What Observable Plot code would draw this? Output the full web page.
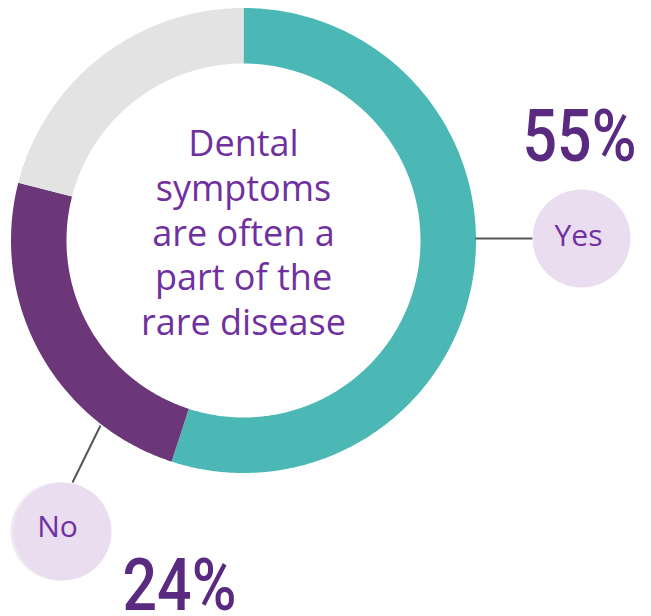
<!DOCTYPE html>
<html><head><meta charset="utf-8">
<script src="https://cdn.jsdelivr.net/npm/d3@7"></script>
<script src="https://cdn.jsdelivr.net/npm/@observablehq/plot@0.6"></script>
<style>body{margin:0;background:#fff}</style>
</head><body><div id="chart"></div>
<script>
// ---- data ----
const categories = ["Yes", "No", "Other"];
const values = [55, 24, 21];
const labelCategories = ["Yes", "No"];
const percentLabels = ["55%", "24%"];
const centerLines = ["Dental", "symptoms", "are often a", "part of the", "rare disease"];
const sliceColors = ["#4bb8b6", "#6b3779", "#e3e3e3"];

// ---- layout (pixels) ----
const W = 651, H = 616;
const cx = 243, cy = 240, R = 232.5, r0 = 177;
const ux = px => (px - cx) / R;
const uy = py => (cy - py) / R;
const pctWidth = 114;

const layout = {
  Yes: {circlePos: [581, 238], textPos: [578, 245], linePos: [[475, 238], [532, 238]], pctPos: [522, 160]},
  No:  {circlePos: [62, 531],  textPos: [57, 536],  linePos: [[100, 425], [72, 482]],  pctPos: [122, 609]}
};

// ---- donut polygons computed from the values ----
const total = d3.sum(values);
const ring = [];
let acc = 0;
categories.forEach((c, i) => {
  const a0 = acc / total * 2 * Math.PI;
  const a1 = (acc + values[i]) / total * 2 * Math.PI;
  acc += values[i];
  const n = Math.max(2, Math.ceil((a1 - a0) / 0.01));
  for (let k = 0; k <= n; k++) {
    const a = a0 + (a1 - a0) * k / n;
    ring.push({category: c, x: Math.sin(a), y: Math.cos(a)});
  }
  for (let k = n; k >= 0; k--) {
    const a = a0 + (a1 - a0) * k / n;
    ring.push({category: c, x: Math.sin(a) * r0 / R, y: Math.cos(a) * r0 / R});
  }
});

const labels = labelCategories.map((c, i) => ({
  category: c,
  pct: percentLabels[i],
  ...layout[c]
}));

const plot = Plot.plot({
  width: W,
  height: H,
  margin: 0,
  style: {background: "#fff"},
  x: {domain: [ux(0), ux(W)], range: [0, W], axis: null},
  y: {domain: [uy(0), uy(H)], range: [0, H], axis: null},
  color: {domain: categories, range: sliceColors},
  marks: [
    Plot.line(ring, {x: "x", y: "y", z: "category", fill: "category", stroke: "none", curve: "linear"}),
    Plot.link(labels, {
      x1: d => ux(d.linePos[0][0]), y1: d => uy(d.linePos[0][1]),
      x2: d => ux(d.linePos[1][0]), y2: d => uy(d.linePos[1][1]),
      stroke: "#555", strokeWidth: 2
    }),
    Plot.dot(labels.filter(d => d.category === "No"), {
      x: d => ux(d.circlePos[0]), y: d => uy(d.circlePos[1]), r: 49, dx: -3,
      fill: "#efe8f2", stroke: "none"
    }),
    Plot.dot(labels, {
      x: d => ux(d.circlePos[0]), y: d => uy(d.circlePos[1]), r: 49,
      fill: "#e9ddef", stroke: "none"
    }),
    Plot.text(labels, {
      x: d => ux(d.textPos[0]), y: d => uy(d.textPos[1]), text: "category",
      fontSize: 30, fontFamily: "Open Sans", fill: "#7030a0",
      textAnchor: "middle", lineAnchor: "bottom"
    }),
    Plot.text(labels, {
      x: d => ux(d.pctPos[0]), y: d => uy(d.pctPos[1]), text: "pct",
      fontSize: 73, fontFamily: "Roboto", fontWeight: 500, fill: "#5a2a80",
      textAnchor: "start", lineAnchor: "bottom"
    }),
    Plot.text([centerLines.join("\n")], {
      x: ux(cx), y: uy(230.6), text: d => d,
      fontSize: 36, lineHeight: 45 / 36, fontFamily: "Open Sans", fill: "#7030a0",
      textAnchor: "middle", lineAnchor: "middle"
    })
  ]
});

document.getElementById("chart").appendChild(plot);

// condense the big percentage labels horizontally
d3.select(plot).selectAll("text")
  .filter(function () { return /%$/.test(this.textContent); })
  .each(function () {
    const w = this.getComputedTextLength();
    const t = this.getAttribute("transform") || "";
    const m = /translate\(([-\d.e]+),\s*([-\d.e]+)\)/.exec(t);
    const sx = pctWidth / w;
    if (m) {
      this.setAttribute("transform", `translate(${m[1]},${m[2]}) scale(${sx},1)`);
    } else {
      const x = +this.getAttribute("x") || 0, y = +this.getAttribute("y") || 0;
      this.removeAttribute("x"); this.removeAttribute("y");
      this.setAttribute("transform", `translate(${x},${y}) scale(${sx},1)`);
    }
  });
</script>
</body></html>
